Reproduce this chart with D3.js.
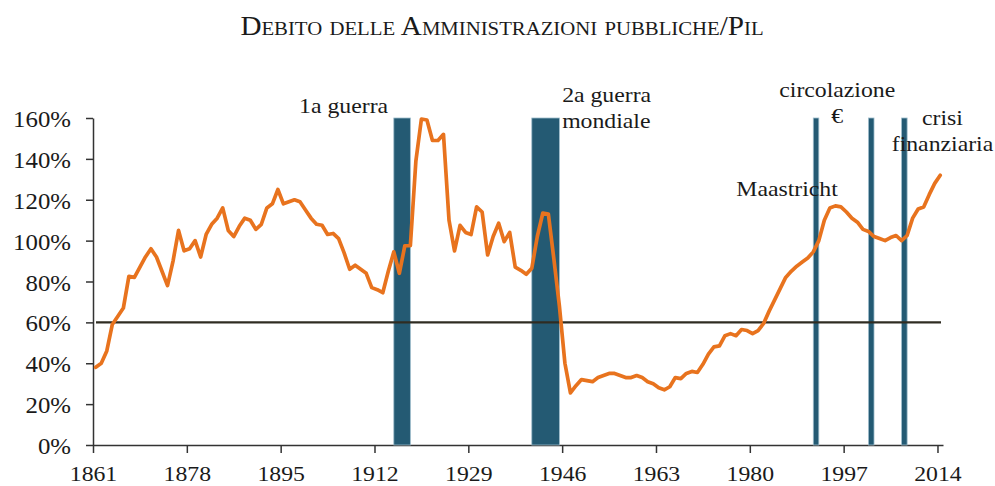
<!DOCTYPE html>
<html>
<head>
<meta charset="utf-8">
<script src="https://d3js.org/d3.v7.min.js"></script>
<style>
  html, body { margin: 0; padding: 0; background: #fff; }
  #chart { width: 995px; height: 486px; }
  text { font-family: "Liberation Serif", "Times New Roman", serif; fill: #1a1a1a; }
</style>
</head>
<body>
<div id="chart"></div>
<script>
const firstYear = 1861;
const lastYear = 2014;

// debito / PIL, % (1861 .. 2014)
const debtRatio = [
  38, 40, 46, 59, 63, 67, 82.5, 82, 87, 92,              // 1861-1870
  96, 92, 85, 78, 90, 105, 95, 96, 100, 92,              // 1871-1880
  103, 108, 111, 116, 105, 102, 107, 111, 110, 105.5,    // 1881-1890
  108, 116, 118, 125, 118, 119, 120, 119, 115, 111,      // 1891-1900
  108, 107.5, 103, 103.5, 101, 94, 86, 88, 86, 84,       // 1901-1910
  77, 76, 74.5, 85, 94.5, 84, 97.5, 97.5, 139, 159.5,    // 1911-1920
  159, 149, 149, 152, 110, 95, 107.5, 104, 103, 116.5,   // 1921-1930
  114, 93, 102, 108.5, 99.5, 104, 87, 85.5, 83.5, 86.5,  // 1931-1940
  102, 113.5, 113, 91, 68, 40, 25.5, 29, 32, 31.5,       // 1941-1950
  31, 33, 34, 35, 35, 34, 33, 33, 34, 33,                // 1951-1960
  31, 30, 28, 27, 28.5, 33, 32.5, 35, 36, 35.5,          // 1961-1970
  39.5, 44.5, 48, 48.5, 53.5, 54.5, 53.5, 56.5, 56, 54.5, // 1971-1980
  56, 59.5, 65.5, 71, 76.5, 82, 85, 87.5, 89.5, 91.5,    // 1981-1990
  94.5, 100, 110, 116, 117, 116.5, 114, 111, 109, 105.5, // 1991-2000
  104.5, 102, 101, 100, 101.5, 102.5, 100, 102.5, 111, 115.5, // 2001-2010
  116.5, 122.5, 128, 132                                 // 2011-2014
];

const xTickYears = [1861, 1878, 1895, 1912, 1929, 1946, 1963, 1980, 1997, 2014];
const yTickValues = [0, 20, 40, 60, 80, 100, 120, 140, 160];
const threshold = 60;

// periodi evidenziati (anni inclusi)
const eventBands = [
  { from: 1916, to: 1918 },
  { from: 1941, to: 1945 },
  { from: 1992, to: 1992 },
  { from: 2002, to: 2002 },
  { from: 2008, to: 2008 }
];

const eventLabels = [
  { lines: ['1a guerra'], x: 1917, anchor: 'end', dx: -14, y: 113 },
  { lines: ['2a guerra', 'mondiale'], x: 1946, anchor: 'start', dx: 0, y: 102 },
  { lines: ['circolazione', '\u20ac'], x: 2002, anchor: 'middle', dx: -34, y: 97 },
  { lines: ['crisi', 'finanziaria'], x: 2014, anchor: 'middle', dx: 5, y: 125 },
  { lines: ['Maastricht'], x: 1992, anchor: 'middle', dx: -29, y: 196 }
];

const title = 'Debito delle Amministrazioni pubbliche/Pil';

const data = debtRatio.map((v, i) => ({ year: firstYear + i, value: v }));

const width = 995, height = 486;
const margin = { top: 118, right: 52, bottom: 41, left: 93 };
const stretch = 1.08;

const svg = d3.select('#chart').append('svg')
  .attr('width', width)
  .attr('height', height)
  .attr('viewBox', `0 0 ${width} ${height}`);

const x = d3.scaleLinear()
  .domain([firstYear, lastYear + 1])
  .range([margin.left, width - margin.right]);

const y = d3.scaleLinear()
  .domain([0, 160])
  .range([height - margin.bottom, margin.top]);

// title
svg.append('text')
  .attr('transform', `translate(502,35) scale(${stretch},1)`)
  .attr('text-anchor', 'middle')
  .attr('font-size', '27px')
  .style('font-variant', 'small-caps')
  .text(title);

// axes
const yAxis = svg.append('g')
  .attr('transform', `translate(${margin.left},0)`)
  .call(d3.axisLeft(y).tickValues(yTickValues).tickSize(7).tickSizeOuter(0).tickPadding(15)
    .tickFormat(d => d + '%'));

const xAxis = svg.append('g')
  .attr('transform', `translate(0,${y(0)})`)
  .call(d3.axisBottom(x).tickValues(xTickYears).tickSize(8).tickSizeOuter(0).tickPadding(12)
    .tickFormat(d3.format('d')));

[yAxis, xAxis].forEach(ax => {
  ax.select('.domain').attr('stroke', '#333').attr('stroke-width', 1.5);
  ax.selectAll('.tick line').attr('stroke', '#333').attr('stroke-width', 1.5);
  ax.selectAll('.tick text')
    .attr('font-family', '"Liberation Serif", "Times New Roman", serif')
    .attr('fill', '#1a1a1a');
});

yAxis.selectAll('.tick text')
  .attr('font-size', '23px')
  .attr('x', -22 / stretch)
  .attr('dy', '0.37em')
  .attr('transform', `scale(${stretch},1)`);

xAxis.selectAll('.tick text')
  .attr('font-size', '22px')
  .attr('transform', `scale(${stretch},1)`);

// bande degli eventi
svg.append('g')
  .selectAll('rect')
  .data(eventBands)
  .join('rect')
  .attr('x', d => x(d.from - 0.5))
  .attr('width', d => x(d.to + 0.5) - x(d.from - 0.5))
  .attr('y', y(160))
  .attr('height', y(0) - y(160))
  .attr('fill', '#245a73')
  .attr('stroke', '#9dbccb')
  .attr('stroke-width', 0.8);

// soglia 60%
svg.append('line')
  .attr('x1', x(firstYear) + 3)
  .attr('x2', x(lastYear + 1) - 2)
  .attr('y1', y(threshold))
  .attr('y2', y(threshold))
  .attr('stroke', '#2f2c22')
  .attr('stroke-width', 2.2);

// serie
const line = d3.line()
  .x(d => x(d.year + 0.5))
  .y(d => y(d.value));

svg.append('path')
  .datum(data)
  .attr('d', line)
  .attr('fill', 'none')
  .attr('stroke', '#e8731e')
  .attr('stroke-width', 3.7)
  .attr('stroke-linejoin', 'round')
  .attr('stroke-linecap', 'round');

// etichette
eventLabels.forEach(lbl => {
  lbl.lines.forEach((str, i) => {
    svg.append('text')
      .attr('transform', `translate(${x(lbl.x) + lbl.dx},${lbl.y + i * 26}) scale(${stretch},1)`)
      .attr('text-anchor', lbl.anchor)
      .attr('font-size', '22px')
      .text(str);
  });
});
</script>
</body>
</html>
